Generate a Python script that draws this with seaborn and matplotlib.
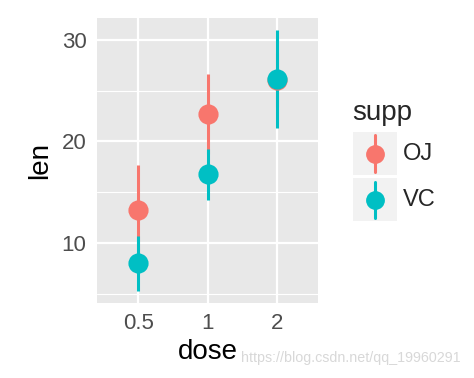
import matplotlib
matplotlib.use("Agg")
import matplotlib.pyplot as plt
from matplotlib.patches import Rectangle
from matplotlib.lines import Line2D
import seaborn as sns
import pandas as pd

# mean and sd of tooth length
doses = ["0.5", "1", "2"]
supps = ["OJ", "VC"]
oj_mean = [13.23, 22.70, 26.06]
oj_sd = [4.46, 3.91, 2.66]
vc_mean = [7.98, 16.77, 26.14]
vc_sd = [2.75, 2.52, 4.80]
colors = {"OJ": "#F8766D", "VC": "#00BFC4"}

df = pd.DataFrame({
    "dose": doses * 2,
    "supp": ["OJ"] * 3 + ["VC"] * 3,
    "len": oj_mean + vc_mean,
    "sd": oj_sd + vc_sd,
})

sns.set_theme(style="darkgrid", rc={
    "axes.facecolor": "#E8E8E8",
    "grid.color": "white",
})
plt.rcParams["font.family"] = ["Liberation Sans", "DejaVu Sans"]

fig = plt.figure(figsize=(4.74, 3.78), dpi=100)
ax = fig.add_axes([97 / 474, 1 - 303 / 378, (318 - 97) / 474, (303 - 18) / 378])

# ranges first, points on top (like geom_pointrange)
for s in supps:
    sub = df[df["supp"] == s]
    xs = [doses.index(d) for d in sub["dose"]]
    ax.vlines(xs, sub["len"] - sub["sd"], sub["len"] + sub["sd"],
              color=colors[s], lw=2.2, zorder=3)

sns.pointplot(data=df, x="dose", y="len", hue="supp", order=doses,
              hue_order=supps, palette=colors, errorbar=None,
              linestyle="none", markers="o", markersize=12.5,
              legend=False, ax=ax)
for c in ax.collections:
    c.set_zorder(4)
for ln in ax.lines:
    ln.set_zorder(4)

ax.set_xlim(-0.6, 2.6)
ax.set_ylim(4.08, 32.17)
ax.set_yticks([10, 20, 30])
ax.set_yticks([5, 15, 25], minor=True)
ax.grid(True, which="major", color="white", lw=1.6)
ax.grid(True, which="minor", axis="y", color="white", lw=0.8)
ax.set_axisbelow(True)
for sp in ax.spines.values():
    sp.set_visible(False)
ax.tick_params(axis="both", which="major", length=4.5, width=1.4,
               color="#333333", labelsize=16, labelcolor="#4D4D4D", pad=3)
ax.tick_params(axis="y", which="minor", length=0)
ax.set_xlabel("dose", fontsize=20, color="black", labelpad=3)
ax.set_ylabel("len", fontsize=20, color="black", labelpad=6)

# legend drawn by hand to mimic ggplot keys
fig.text(352 / 474, 1 - 113 / 378, "supp", fontsize=20, va="center", ha="left")
key_tops = [132, 178]
for s, top in zip(supps, key_tops):
    fig.patches.append(Rectangle((353 / 474, 1 - (top + 43) / 378), 44 / 474, 43 / 378,
                                 transform=fig.transFigure, facecolor="#F2F2F2",
                                 edgecolor="none"))
    cx = 375 / 474
    cy = 1 - (top + 21.5) / 378
    fig.lines.append(Line2D([cx, cx], [cy - 18 / 378, cy + 18 / 378],
                            transform=fig.transFigure, color=colors[s], lw=2.2))
    fig.lines.append(Line2D([cx], [cy], transform=fig.transFigure, marker="o",
                            markersize=12.5, color=colors[s], lw=0))
    fig.text(403 / 474, cy, s, fontsize=17, va="center", ha="left")

# faint watermark from the source image
fig.text(241 / 474, 1 - 358 / 378, "https://blog.csdn.net/qq_19960291",
         fontsize=10.3, color="#D8D8D8", va="center", ha="left")

fig.savefig("out.png", dpi=100)
